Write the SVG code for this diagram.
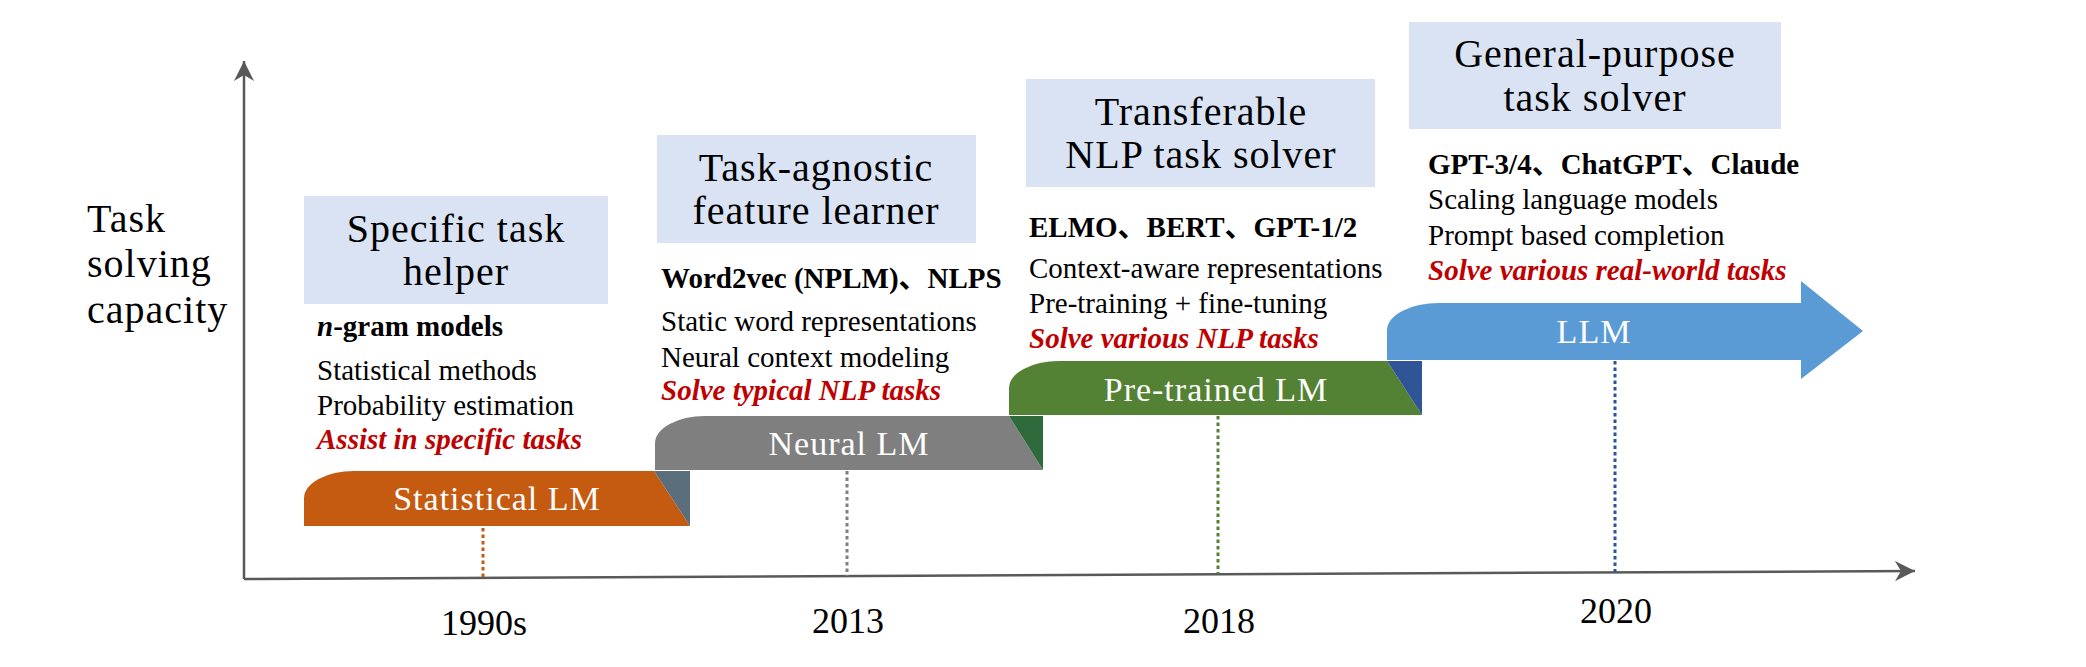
<svg xmlns="http://www.w3.org/2000/svg" width="2086" height="667" viewBox="0 0 2086 667">
<style>
text{font-family:'Liberation Serif','Times New Roman','DejaVu Serif','Noto Sans CJK SC',serif}
.title{font-size:40px;letter-spacing:1px;fill:#000;text-anchor:middle}
.axislabel{font-size:40px;letter-spacing:1px;fill:#000}
.bar{font-size:34px;letter-spacing:1px;fill:#fff;text-anchor:middle}
.year{font-size:36px;fill:#000;text-anchor:middle}
.b{font-size:29px;font-weight:bold;fill:#000}
.t{font-size:29px;fill:#000}
.r{font-size:29px;font-weight:bold;font-style:italic;fill:#C00000}
.box{fill:#DAE3F3}
.axis{stroke:#595959;stroke-width:2.5;fill:none}
.dot{stroke-width:3;stroke-dasharray:3.5 3;fill:none}
</style>
<defs>
<marker id="stealth" viewBox="0 0 20 20" refX="20" refY="10" markerWidth="20" markerHeight="20" markerUnits="userSpaceOnUse" orient="auto">
<path d="M0,0 L20,10 L0,20 L6,10 Z" fill="#595959"/>
</marker>
</defs>
<rect width="2086" height="667" fill="#fff"/>

<g id="connectors">
<line class="axis" x1="244" y1="579" x2="244" y2="61" marker-end="url(#stealth)"/>
<line class="axis" x1="244" y1="579" x2="1915" y2="571" marker-end="url(#stealth)"/>
<line class="dot" x1="483" y1="528" x2="483" y2="577" stroke="#C55A11"/>
<line class="dot" x1="847" y1="471" x2="847" y2="576" stroke="#7F7F7F"/>
<line class="dot" x1="1218" y1="416" x2="1218" y2="574" stroke="#548235"/>
<line class="dot" x1="1615" y1="361" x2="1615" y2="572" stroke="#2F5597"/>
</g>

<g id="axis-label">
<text class="axislabel" x="87" y="232">Task</text>
<text class="axislabel" x="87" y="277">solving</text>
<text class="axislabel" x="87" y="323">capacity</text>
</g>

<g id="years">
<text class="year" x="484" y="635">1990s</text>
<text class="year" x="848" y="633">2013</text>
<text class="year" x="1219" y="633">2018</text>
<text class="year" x="1616" y="623">2020</text>
</g>

<g id="stage-statistical">
<rect class="box" x="304" y="196" width="304" height="108"/>
<text class="title" x="456" y="242">Specific task</text>
<text class="title" x="456" y="285">helper</text>
<text class="b" x="317" y="336"><tspan font-style="italic">n</tspan>-gram models</text>
<text class="t" x="317" y="380">Statistical methods</text>
<text class="t" x="317" y="415">Probability estimation</text>
<text class="r" x="317" y="449">Assist in specific tasks</text>
<path d="M304,526 L304,498 A50,27 0 0 1 354,471 L654,471 L690,526 Z" fill="#C55A11"/>
<path d="M654,471 L690,471 L690,526 Z" fill="#5A6E7C"/>
<text class="bar" x="497" y="510">Statistical LM</text>
</g>

<g id="stage-neural">
<rect class="box" x="657" y="135" width="319" height="108"/>
<text class="title" x="816" y="181">Task-agnostic</text>
<text class="title" x="816" y="224">feature learner</text>
<text class="b" x="661" y="288">Word2vec (NPLM)、NLPS</text>
<text class="t" x="661" y="331">Static word representations</text>
<text class="t" x="661" y="367">Neural context modeling</text>
<text class="r" x="661" y="400">Solve typical NLP tasks</text>
<path d="M655,470 L655,443 A50,27 0 0 1 705,416 L1009,416 L1043,470 Z" fill="#7F7F7F"/>
<path d="M1009,416 L1043,416 L1043,470 Z" fill="#2F6A3C"/>
<text class="bar" x="849" y="455">Neural LM</text>
</g>

<g id="stage-pretrained">
<rect class="box" x="1026" y="79" width="349" height="108"/>
<text class="title" x="1201" y="125">Transferable</text>
<text class="title" x="1201" y="168">NLP task solver</text>
<text class="b" x="1029" y="237">ELMO、BERT、GPT-1/2</text>
<text class="t" x="1029" y="278">Context-aware representations</text>
<text class="t" x="1029" y="313">Pre-training + fine-tuning</text>
<text class="r" x="1029" y="348">Solve various NLP tasks</text>
<path d="M1009,415 L1009,388 A50,27 0 0 1 1059,361 L1387,361 L1422,415 Z" fill="#548235"/>
<path d="M1387,361 L1422,361 L1422,415 Z" fill="#2F5597"/>
<text class="bar" x="1216" y="401">Pre-trained LM</text>
</g>

<g id="stage-llm">
<rect class="box" x="1409" y="22" width="372" height="107"/>
<text class="title" x="1595" y="67">General-purpose</text>
<text class="title" x="1595" y="111">task solver</text>
<text class="b" x="1428" y="174">GPT-3/4、ChatGPT、Claude</text>
<text class="t" x="1428" y="209">Scaling language models</text>
<text class="t" x="1428" y="245">Prompt based completion</text>
<text class="r" x="1428" y="280">Solve various real-world tasks</text>
<path d="M1387,360 L1387,330 A52,27 0 0 1 1439,303 L1801,303 L1801,281 L1863,331 L1801,379 L1801,360 Z" fill="#5B9BD5"/>
<text class="bar" x="1594" y="343">LLM</text>
</g>
</svg>
